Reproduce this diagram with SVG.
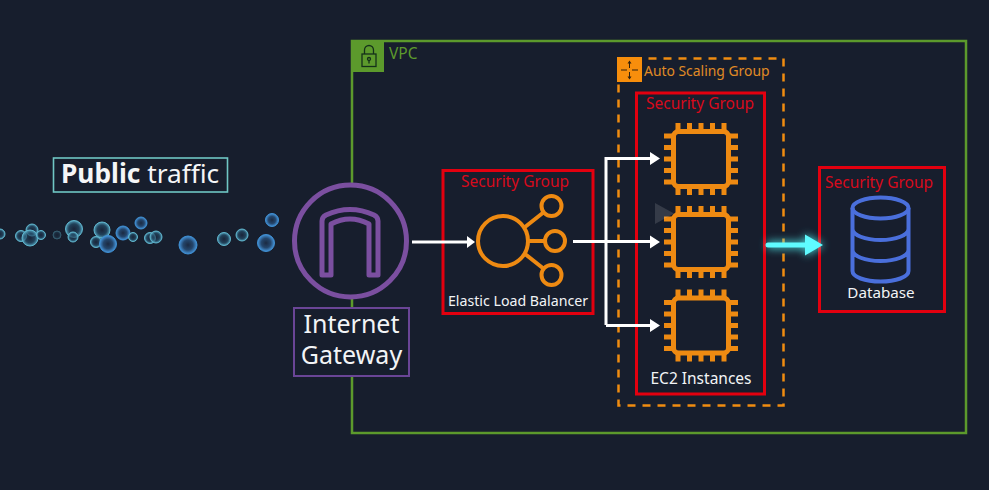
<svg xmlns="http://www.w3.org/2000/svg" xmlns:xlink="http://www.w3.org/1999/xlink" width="989" height="490" viewBox="0 0 989 490">
<style>
text{font-family:"Noto Sans","Open Sans","DejaVu Sans",sans-serif}
.sgb{fill:none;stroke:#e3000f;stroke-width:3}
.sgt{fill:#d80a1c;font-size:15.5px;text-anchor:middle}
.w{fill:#f2f4f6;text-anchor:middle}
.or{fill:none;stroke:#ee8a12;stroke-width:4}
.chipb{fill:none;stroke:#ee8a12;stroke-width:5}
.pin{stroke:#ee8a12;stroke-width:5;fill:none}
.db{fill:none;stroke:#4a6fdc;stroke-width:4}
.ln{fill:none;stroke:#fff;stroke-width:3}
.ah{fill:#fff}
.b1{fill:url(#bub);stroke:#3f8fd2;stroke-width:1}
.b2{fill:url(#bubt);stroke:#5fb4cc;stroke-width:1}
</style>
<defs>
<radialGradient id="bub"><stop offset="0" stop-color="#1b2a42"/><stop offset=".55" stop-color="#24466c"/><stop offset="1" stop-color="#4595dc"/></radialGradient>
<radialGradient id="bubt"><stop offset="0" stop-color="#1b2a42" stop-opacity=".6"/><stop offset=".6" stop-color="#25506c" stop-opacity=".7"/><stop offset="1" stop-color="#5cb4d0" stop-opacity=".9"/></radialGradient>
<filter id="glow" x="-30%" y="-150%" width="160%" height="400%"><feGaussianBlur stdDeviation="4.500"/></filter>
<g id="chip">
<rect x="-27.500" y="-27.500" width="55" height="55" rx="5" class="chipb"/>
<path class="pin" d="M-23-28v-8M-11.500-28v-8M0-28v-8M11.500-28v-8M23-28v-8M-23 28v8M-11.500 28v8M0 28v8M11.500 28v8M23 28v8M-28-23h-9M-28-11.500h-9M-28 0h-9M-28 11.500h-9M-28 23h-9M28-23h9M28-11.500h9M28 0h9M28 11.500h9M28 23h9"/>
</g>
</defs>
<rect width="989" height="490" fill="#171e2d"/>

<g id="public-traffic">
<rect x="53.500" y="158" width="174" height="34" fill="none" stroke="#6fc6c4" stroke-width="1.600"/>
<text x="61" y="183" font-size="26.300" fill="#f5f6f7"><tspan font-weight="700">Public</tspan> traffic</text>
</g>

<g id="bubbles">
<circle class="b2" cx="0" cy="234" r="5"/><circle class="b2" cx="21" cy="236" r="5.500"/><circle class="b2" cx="32" cy="230" r="6"/><circle class="b2" cx="30" cy="238" r="8"/><circle class="b2" cx="41" cy="235" r="4.500"/>
<circle class="b2" cx="57" cy="235" r="4" opacity=".4"/><circle class="b2" cx="74" cy="229" r="8.500"/><circle class="b2" cx="73" cy="237" r="5"/><circle class="b2" cx="102" cy="230" r="8"/><circle class="b2" cx="96" cy="242" r="5.500"/>
<circle class="b1" cx="108" cy="244" r="8.500"/><circle class="b1" cx="123" cy="233" r="7"/><circle class="b2" cx="133" cy="237" r="4.500"/><circle class="b1" cx="141" cy="223" r="6"/><circle class="b2" cx="150" cy="238" r="5.500"/><circle class="b2" cx="156" cy="237" r="6"/>
<circle class="b1" cx="188" cy="245" r="9"/><circle class="b2" cx="224" cy="239" r="6.500"/><circle class="b2" cx="242" cy="235" r="6"/><circle class="b1" cx="266" cy="243" r="8.500"/><circle class="b1" cx="272" cy="220" r="6.500"/>
</g>

<g id="vpc">
<rect x="352" y="41" width="614" height="392" fill="none" stroke="#5c9a2c" stroke-width="2.500"/>
<rect x="351" y="40" width="33" height="32" fill="#5c9a2c"/>
<g fill="none" stroke="#14301a" stroke-width="1.300">
<rect x="362" y="54" width="14" height="12.500"/><path d="M364.500 54v-4a4.500 4.500 0 0 1 9 0v4"/><circle cx="369" cy="59" r="1.500"/><path d="M369 60.500v3"/>
</g>
<text x="389" y="59" font-size="15.500" fill="#5c9a2c">VPC</text>
</g>

<g id="internet-gateway">
<circle cx="350.500" cy="241" r="56" fill="#171e2d" stroke="#7b4fa0" stroke-width="5"/>
<path d="M322 275V221Q322 217 326 215Q350 204 374 215Q378 217 378 221V275H369V224Q350 214 331 224V275Z" fill="none" stroke="#7b4fa0" stroke-width="5" stroke-linejoin="round"/>
<rect x="294" y="308" width="115" height="68" fill="#171e2d" stroke="#6a4596" stroke-width="2"/>
<text class="w" x="351.500" y="333" font-size="25">Internet</text>
<text class="w" x="351.500" y="364" font-size="25">Gateway</text>
</g>

<g id="auto-scaling-group">
<rect x="618.500" y="58.500" width="165" height="347" fill="none" stroke="#f08c10" stroke-width="2.500" stroke-dasharray="8 7"/>
<rect x="617" y="57" width="25" height="25" fill="#f78e0c"/>
<path d="M629.500 62v6M629.500 72v6M621 70h6M632 70h6" stroke="#30200c" stroke-width="1" fill="none"/>
<path d="M627.500 63.500L629.500 60.500L631.500 63.500ZM627.500 76.500L629.500 79.500L631.500 76.500Z" fill="#30200c"/>
<text x="644" y="76" font-size="13.900" fill="#e08b25">Auto Scaling Group</text>
</g>

<g id="elastic-load-balancer">
<rect class="sgb" x="443" y="170.500" width="150" height="143"/>
<text class="sgt" x="515" y="187">Security Group</text>
<circle class="or" cx="503" cy="241" r="25"/>
<circle class="or" cx="551.500" cy="206" r="10"/><circle class="or" cx="555" cy="241" r="10"/><circle class="or" cx="551.500" cy="275" r="10"/>
<path class="or" d="M525 227L544 212M528 241H545M525 254L544 269"/>
<text class="w" x="518" y="306" font-size="14.200">Elastic Load Balancer</text>
</g>

<g id="ec2-instances">
<rect class="sgb" x="636.500" y="93" width="128" height="301"/>
<text class="sgt" x="700" y="109">Security Group</text>
<use xlink:href="#chip" href="#chip" x="701" y="159"/>
<use xlink:href="#chip" href="#chip" x="701" y="242"/>
<use xlink:href="#chip" href="#chip" x="701" y="325.500"/>
<path d="M655 203L674 213.500L655 224Z" fill="#fff" opacity=".13"/>
<text class="w" x="701" y="384" font-size="15.500">EC2 Instances</text>
</g>

<g id="database">
<rect class="sgb" x="819.500" y="167.500" width="125" height="144"/>
<text class="sgt" x="879" y="188">Security Group</text>
<ellipse class="db" cx="880.500" cy="208" rx="28" ry="10.500"/>
<path class="db" d="M852.500 208V271C852.500 277 865 281.500 880.500 281.500S908.500 277 908.500 271V208M852.500 229C852.500 235 865 240 880.500 240S908.500 235 908.500 229M852.500 250C852.500 256 865 261 880.500 261S908.500 256 908.500 250"/>
<text class="w" x="881" y="298" font-size="15.200">Database</text>
</g>

<g id="connectors">
<path class="ln" d="M412 242H470"/><path class="ah" d="M467 236L475 242L467 248Z"/>
<path class="ln" d="M573 241.500H654M606 325V157M606 158.500H654M606 325.500H654"/>
<path class="ah" d="M650 152L660 158.500L650 165ZM650 235.500L660 242L650 248.500ZM650 319L660 325.500L650 332Z"/>
<g filter="url(#glow)" opacity=".8"><path d="M767 245H806" stroke="#5ff" stroke-width="7"/><path d="M805 234L824 245L805 256Z" fill="#5ff"/></g>
<path d="M768 245H806" stroke="#5ffbff" stroke-width="5" stroke-linecap="round"/><path d="M805 234.500L823 245L805 255.500Z" fill="#5ffbff"/>
</g>
</svg>
